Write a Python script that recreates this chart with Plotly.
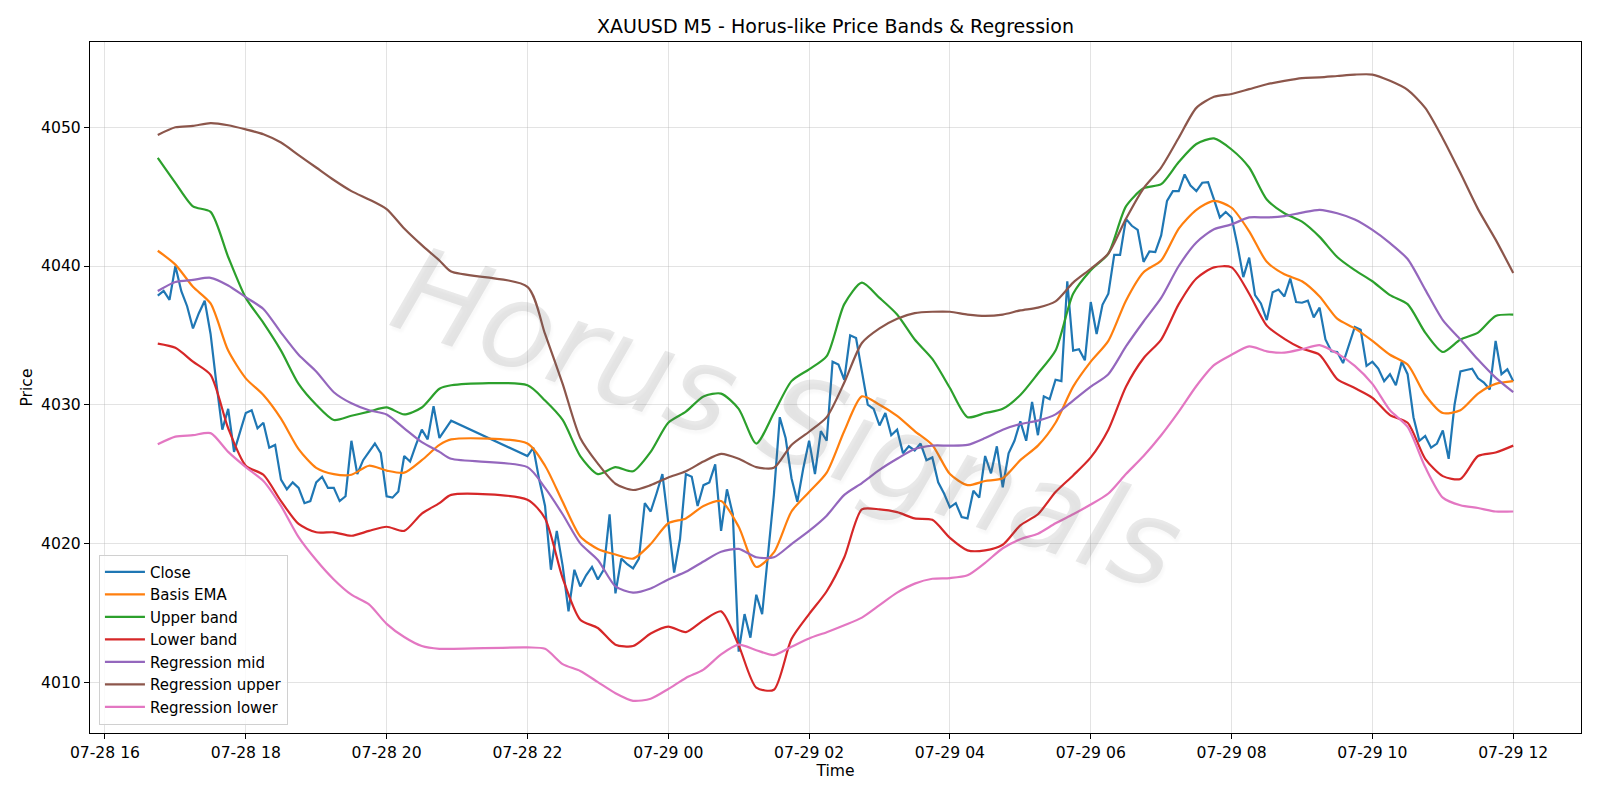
import pandas as pd
import plotly.graph_objects as go

# ---------------- data ----------------
# Close (5-minute bars), session 1: 07-28 16:45 .. 20:55 ; session 2: 07-28 22:00 .. 07-29 12:00
close_s1 = [
    4037.86, 4038.2, 4037.56,                                  # 16:45-16:55
    4040.0, 4038.2, 4037.1, 4035.5, 4036.6, 4037.5, 4035.1, 4031.5, 4028.2, 4029.7, 4026.6, 4028.0,  # 17
    4029.4, 4029.6, 4028.3, 4028.7, 4026.9, 4027.1, 4024.6, 4023.9, 4024.4, 4024.0, 4022.9, 4023.05,  # 18
    4024.4, 4024.8, 4024.0, 4024.0, 4023.05, 4023.4, 4027.4, 4025.0, 4026.0, 4026.6, 4027.2, 4026.5,  # 19
    4023.4, 4023.3, 4023.75, 4026.3, 4025.9, 4027.1, 4028.2, 4027.5, 4029.9, 4027.6, 4028.2, 4028.85,  # 20
]
close_s2 = [
    4026.3, 4026.9, 4024.6, 4022.7, 4018.1, 4020.9, 4018.4, 4015.1, 4018.1, 4016.9, 4017.7, 4018.3,  # 22
    4017.4, 4018.1, 4022.1, 4016.4, 4018.9, 4018.5, 4018.2, 4018.9, 4022.9, 4022.3, 4023.6, 4025.0,  # 23
    4021.5, 4017.9, 4020.3, 4025.0, 4024.8, 4022.7, 4024.2, 4024.4, 4025.7, 4020.9, 4023.9, 4022.1,  # 00
    4012.2, 4014.9, 4013.2, 4016.3, 4014.9, 4019.1, 4023.5, 4029.1, 4027.6, 4024.7, 4023.0, 4025.4,  # 01
    4027.4, 4025.0, 4028.1, 4027.4, 4033.1, 4032.9, 4031.8, 4035.0, 4034.8, 4032.4, 4030.0, 4029.7,  # 02
    4028.5, 4029.4, 4027.8, 4028.2, 4026.5, 4027.0, 4026.7, 4027.2, 4026.0, 4026.2, 4024.4, 4023.6,  # 03
    4022.6, 4022.9, 4021.9, 4021.8, 4023.8, 4023.3, 4026.3, 4025.05, 4027.0, 4024.05, 4026.5, 4027.4,  # 04
    4028.8, 4027.4, 4030.2, 4027.8, 4030.6, 4030.4, 4031.8, 4031.7, 4038.9, 4033.9, 4034.0, 4033.2,  # 05
    4037.4, 4035.1, 4037.2, 4038.0, 4040.8, 4040.8, 4043.4, 4042.9, 4042.6, 4040.3, 4041.05, 4041.0,  # 06
    4042.2, 4044.7, 4045.4, 4045.4, 4046.6, 4045.8, 4045.4, 4046.0, 4046.05, 4044.8, 4043.5, 4043.9,  # 07
    4043.5, 4041.5, 4039.2, 4040.6, 4037.9, 4037.3, 4036.1, 4038.1, 4038.3, 4037.8, 4039.1, 4037.4,  # 08
    4037.35, 4037.5, 4036.3, 4037.0, 4034.7, 4033.85, 4033.8, 4033.0, 4034.3, 4035.6, 4035.4, 4032.8,  # 09
    4033.1, 4032.6, 4031.7, 4032.2, 4031.4, 4033.1, 4032.2, 4029.1, 4027.4, 4027.75, 4026.9, 4027.2,  # 10
    4028.15, 4026.1, 4030.0, 4032.4, 4032.5, 4032.6, 4031.9, 4031.6, 4031.1, 4034.6, 4032.2, 4032.55,  # 11
    4031.7,                                                                                          # 12:00
]

# Smooth indicator series sampled every 15 minutes (plus last bar 20:55 before the break)
basis_ema = [
    4041.1,
    4040.1, 4038.5, 4037.3, 4033.9,
    4031.9, 4030.7, 4029.0, 4026.8,
    4025.45, 4025.0, 4024.95, 4025.6,
    4025.25, 4025.1, 4026.0, 4027.1,
    4027.5,
    4027.2, 4025.6, 4023.0, 4020.5,
    4019.6, 4019.2, 4018.9, 4019.95,
    4021.45, 4021.8, 4022.7, 4023.05,
    4021.2, 4018.3, 4019.35, 4022.3,
    4023.7, 4025.1, 4028.1, 4030.6,
    4030.0, 4029.2, 4028.1, 4027.1,
    4025.0, 4024.2, 4024.5, 4024.7,
    4026.0, 4027.05, 4028.7, 4031.3,
    4033.1, 4034.6, 4037.5, 4039.55,
    4040.4, 4042.7, 4044.05, 4044.7,
    4044.2, 4042.5, 4040.3, 4039.4,
    4038.9, 4037.8, 4036.2, 4035.5,
    4034.6, 4033.6, 4032.9, 4030.7,
    4029.4, 4029.6, 4030.8, 4031.5,
    4031.7,
]
upper_band = [
    4047.8,
    4046.0, 4044.3, 4043.9, 4040.65,
    4037.7, 4035.9, 4033.9, 4031.5,
    4030.0, 4028.9, 4029.2, 4029.5,
    4029.8, 4029.3, 4029.8, 4031.15,
    4031.4,
    4031.4, 4030.3, 4028.9, 4026.3,
    4025.0, 4025.5, 4025.2, 4026.6,
    4028.7, 4029.5, 4030.6, 4030.8,
    4029.7, 4027.2, 4029.4, 4031.7,
    4032.55, 4033.5, 4037.25, 4038.8,
    4037.7, 4036.5, 4034.7, 4033.3,
    4031.2, 4029.1, 4029.4, 4029.7,
    4030.7, 4032.25, 4033.9, 4038.0,
    4039.7, 4040.9, 4044.3, 4045.6,
    4045.9, 4047.5, 4048.8, 4049.2,
    4048.4, 4047.1, 4044.8, 4043.8,
    4043.2, 4042.1, 4040.65, 4039.7,
    4038.9, 4037.9, 4037.25, 4035.2,
    4033.8, 4034.7, 4035.2, 4036.4,
    4036.5,
]
lower_band = [
    4034.4,
    4034.1, 4033.1, 4032.15, 4028.3,
    4025.6, 4024.95, 4023.05, 4021.4,
    4020.8, 4020.8, 4020.55, 4020.9,
    4021.2, 4020.9, 4022.15, 4022.9,
    4023.5,
    4023.15, 4021.8, 4017.5, 4014.5,
    4013.9, 4012.7, 4012.6, 4013.5,
    4014.0, 4013.6, 4014.45, 4015.1,
    4012.65, 4009.6, 4009.45, 4013.1,
    4014.9, 4016.55, 4019.0, 4022.45,
    4022.45, 4022.25, 4021.8, 4021.7,
    4020.4, 4019.5, 4019.5, 4019.9,
    4021.3, 4022.1, 4023.7, 4024.9,
    4026.2, 4028.2, 4031.3, 4033.35,
    4034.7, 4037.25, 4039.1, 4039.9,
    4039.9, 4038.0, 4035.7, 4034.75,
    4034.05, 4033.6, 4031.85, 4031.2,
    4030.5, 4029.25, 4028.7, 4026.1,
    4024.85, 4024.65, 4026.3, 4026.55,
    4027.05,
]
reg_mid = [
    4038.2,
    4038.85, 4039.0, 4039.15, 4038.6,
    4037.75, 4036.9, 4035.2, 4033.6,
    4032.4, 4030.9, 4030.1, 4029.6,
    4029.3, 4028.3, 4027.3, 4026.6,
    4026.1,
    4025.5, 4024.0, 4022.1, 4020.0,
    4018.8, 4016.9, 4016.45, 4016.75,
    4017.4, 4017.95, 4018.7, 4019.4,
    4019.6, 4019.0, 4019.0, 4019.95,
    4020.9, 4022.0, 4023.5, 4024.35,
    4025.3, 4026.1, 4026.8, 4027.05,
    4027.05, 4027.1, 4027.6, 4028.2,
    4028.6, 4028.85, 4029.3, 4030.3,
    4031.3, 4032.2, 4034.2, 4036.0,
    4037.7, 4040.0, 4041.7, 4042.65,
    4043.0, 4043.5, 4043.5, 4043.6,
    4043.85, 4044.05, 4043.8, 4043.35,
    4042.6, 4041.65, 4040.5, 4038.3,
    4036.1, 4034.7, 4033.25, 4031.95,
    4030.9,
]
reg_upper = [
    4049.45,
    4050.0, 4050.1, 4050.3, 4050.15,
    4049.85, 4049.5, 4048.9, 4048.0,
    4047.1, 4046.2, 4045.4, 4044.8,
    4044.1, 4042.7, 4041.5, 4040.4,
    4039.6,
    4038.5, 4035.1, 4031.5, 4027.6,
    4025.75, 4024.3, 4023.85, 4024.2,
    4024.75, 4025.2, 4025.9, 4026.45,
    4026.1, 4025.5, 4025.45, 4027.1,
    4028.05, 4029.1, 4031.6, 4034.45,
    4035.5, 4036.2, 4036.6, 4036.7,
    4036.7, 4036.5, 4036.4, 4036.5,
    4036.8, 4037.0, 4037.45, 4038.8,
    4039.8, 4040.9, 4043.4, 4045.6,
    4047.1, 4049.25, 4051.4, 4052.2,
    4052.4, 4052.75, 4053.1, 4053.35,
    4053.55, 4053.6, 4053.7, 4053.8,
    4053.8, 4053.35, 4052.7, 4051.4,
    4049.2, 4046.7, 4044.1, 4041.9,
    4039.5,
]
reg_lower = [
    4027.15,
    4027.7, 4027.8, 4027.95, 4026.6,
    4025.5, 4024.5, 4022.7, 4020.45,
    4018.8, 4017.4, 4016.3, 4015.6,
    4014.2, 4013.25, 4012.6, 4012.4,
    4012.4,
    4012.5, 4012.4, 4011.3, 4010.8,
    4010.0, 4009.2, 4008.65, 4008.8,
    4009.5, 4010.3, 4010.9, 4012.0,
    4012.7, 4012.3, 4011.95, 4012.55,
    4013.15, 4013.6, 4014.1, 4014.65,
    4015.55, 4016.45, 4017.1, 4017.45,
    4017.5, 4017.7, 4018.6, 4019.65,
    4020.3, 4020.7, 4021.45, 4022.1,
    4022.8, 4023.6, 4025.0, 4026.3,
    4027.8, 4029.5, 4031.35, 4032.85,
    4033.6, 4034.2, 4033.85, 4033.75,
    4034.0, 4034.3, 4033.7, 4032.8,
    4031.5, 4029.6, 4028.4, 4025.5,
    4023.3, 4022.75, 4022.55, 4022.3,
    4022.3,
]

series_names = ["Close", "Basis EMA", "Upper band", "Lower band",
                "Regression mid", "Regression upper", "Regression lower"]
series_colors = ["#1f77b4", "#ff7f0e", "#2ca02c", "#d62728",
                 "#9467bd", "#8c564b", "#e377c2"]

# ---------------- time axes ----------------
t_close = list(pd.date_range("2025-07-28 16:45", "2025-07-28 20:55", freq="5min")) + \
          list(pd.date_range("2025-07-28 22:00", "2025-07-29 12:00", freq="5min"))
t_smooth = list(pd.date_range("2025-07-28 16:45", "2025-07-28 20:45", freq="15min")) + \
           [pd.Timestamp("2025-07-28 20:55")] + \
           list(pd.date_range("2025-07-28 22:00", "2025-07-29 12:00", freq="15min"))

close = close_s1 + close_s2

fig = go.Figure()
all_series = [close, basis_ema, upper_band, lower_band, reg_mid, reg_upper, reg_lower]
for i, (name, vals, col) in enumerate(zip(series_names, all_series, series_colors)):
    if i == 0:
        line = dict(color=col, width=2.2)
        xs = t_close
    else:
        line = dict(color=col, width=2.2, shape="spline", smoothing=0.7)
        xs = t_smooth
    fig.add_trace(go.Scatter(x=xs, y=vals, mode="lines", name=name, line=line))

font_family = "DejaVu Sans"
fs = 15.6
fig.update_layout(
    width=1600, height=800,
    margin=dict(l=90, r=19, t=42, b=67),
    paper_bgcolor="white", plot_bgcolor="white",
    font=dict(family=font_family, size=fs, color="black"),
    title=dict(text="XAUUSD M5 - Horus-like Price Bands & Regression",
               x=0.5, xref="paper", xanchor="center",
               y=1 - 26 / 800, yref="container", yanchor="middle",
               font=dict(size=19, family=font_family)),
    showlegend=True,
    legend=dict(x=0.006, y=0.012, xanchor="left", yanchor="bottom",
                bgcolor="rgba(255,255,255,0.8)", bordercolor="#d0d0d0", borderwidth=1,
                font=dict(size=15, family=font_family), itemwidth=40,
                tracegroupgap=0),
)
fig.update_xaxes(
    title=dict(text="Time", font=dict(size=fs), standoff=4),
    range=[pd.Timestamp("2025-07-28 15:47:15"), pd.Timestamp("2025-07-29 12:57:45")],
    tick0="2025-07-28 16:00", dtick=2 * 3600 * 1000, tickformat="%m-%d %H",
    showgrid=True, gridcolor="rgba(176,176,176,0.35)", gridwidth=1,
    showline=True, linecolor="black", linewidth=1.2, mirror=True,
    ticks="outside", ticklen=5, tickwidth=1.1, tickcolor="black",
    zeroline=False, tickfont=dict(size=fs),
)
fig.update_yaxes(
    title=dict(text="Price", font=dict(size=fs), standoff=4),
    range=[4006.33, 4056.15], tick0=4010, dtick=10,
    showgrid=True, gridcolor="rgba(176,176,176,0.35)", gridwidth=1,
    showline=True, linecolor="black", linewidth=1.2, mirror=True,
    ticks="outside", ticklen=5, tickwidth=1.1, tickcolor="black",
    zeroline=False, tickfont=dict(size=fs),
)

# Watermark
fig.add_annotation(
    text="Horus Signals", xref="paper", yref="paper", x=0.468, y=0.455,
    showarrow=False, textangle=19,
    font=dict(family=font_family, size=120, color="rgba(110,110,110,0.15)",
              style="italic", shadow="3px 3px 3px rgba(0,0,0,0.18)"),
)

fig.write_html("out.html")
